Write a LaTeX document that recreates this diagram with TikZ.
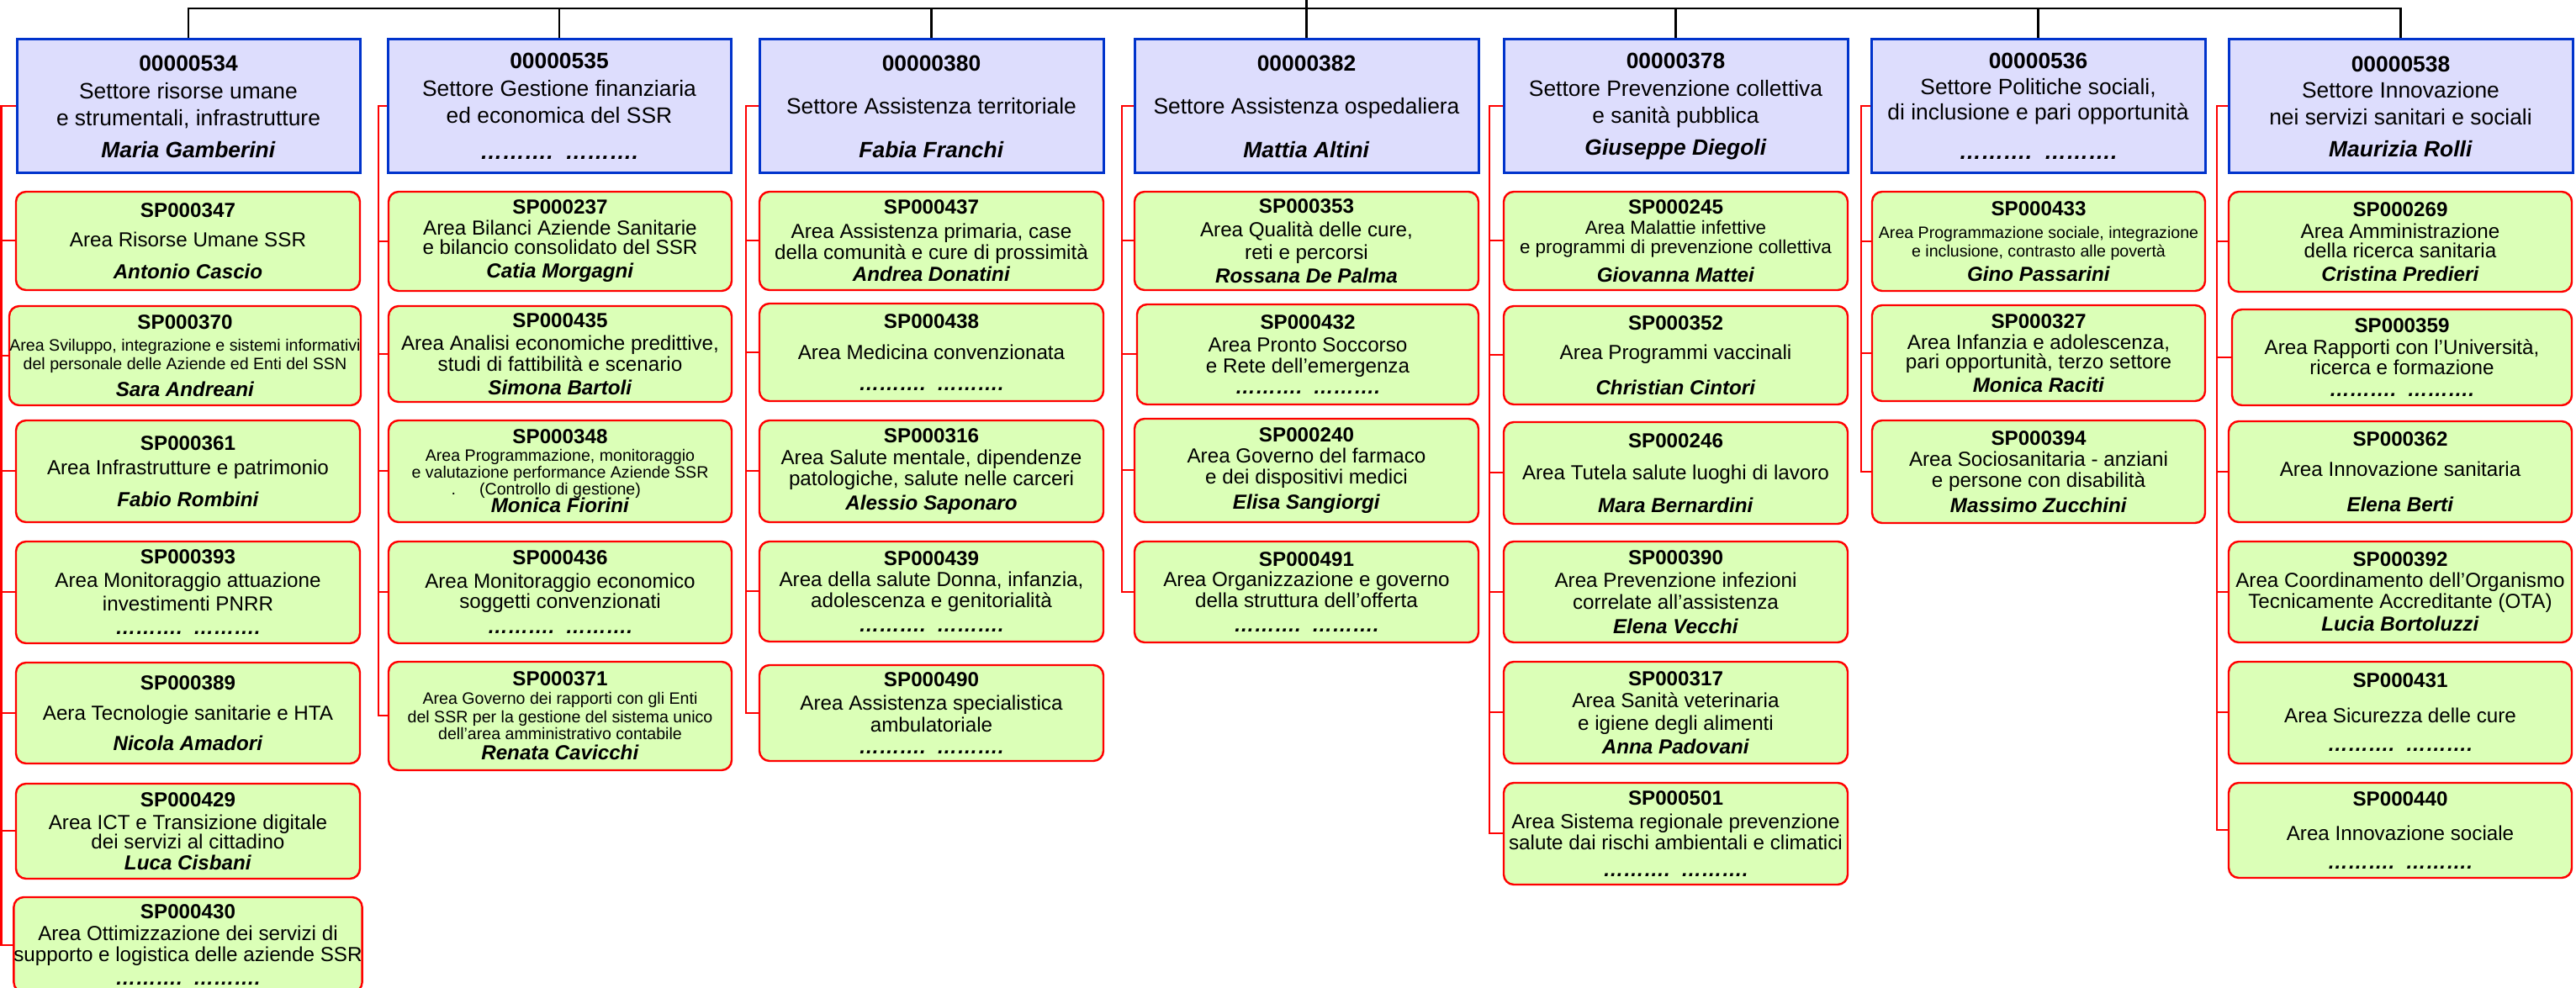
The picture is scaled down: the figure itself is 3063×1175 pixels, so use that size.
\documentclass[tikz,border=0pt]{standalone}
\usepackage{fontspec}
\setmainfont{Liberation Sans}
\definecolor{bordoblu}{RGB}{0,51,204}
\definecolor{fondoblu}{RGB}{221,221,253}
\definecolor{bordorosso}{RGB}{255,0,0}
\definecolor{fondoverde}{RGB}{219,255,183}
\newcommand{\settfont}{\fontsize{6.6}{8}\selectfont}
\newcommand{\areafont}{\fontsize{6.05}{6.2}\selectfont}
\newcommand{\piccolo}{\fontsize{4.9}{5.5}\selectfont}
\newcommand{\medio}{\fontsize{5.6}{6}\selectfont}
\newcommand{\codice}[1]{\textbf{#1}}
\newcommand{\resp}[1]{\textbf{\itshape #1}}
\newcommand{\puntini}{\textbf{\itshape ……….\ \ ……….}}
\begin{document}
\begin{tikzpicture}[x=0.25pt,y=-0.25pt]
	\tikzstyle{settore}=[draw=bordoblu, line width=0.75pt, fill=fondoblu, minimum height=39.75pt, inner sep=0pt, align=center, font=\settfont]
	\tikzstyle{area}=[draw=bordorosso, line width=0.6pt, fill=fondoverde, rounded corners=3pt, inner sep=0pt, align=center, font=\areafont]
	\tikzstyle{nero}=[black, line width=0.55pt]
	\tikzstyle{rosso}=[bordorosso, line width=0.5pt]
	\useasboundingbox (0,0) rectangle (3063,1175);
	\coordinate (radice) at (1553.5,0);
	\coordinate (bus) at (1553.5,10);
	\node[settore, minimum width=102pt] (s534) at (224,126.5) {\codice{00000534}\\[0.25pt] Settore risorse umane\\ e strumentali, infrastrutture\\[1.5pt] \resp{Maria Gamberini}};
	\node[settore, minimum width=102pt] (s535) at (665,126.5) {\codice{00000535}\\[0.25pt] Settore Gestione finanziaria\\ ed economica del SSR\\[2.75pt] \puntini};
	\node[settore, minimum width=102.25pt] (s380) at (1107.5,126.5) {\codice{00000380}\\[4.75pt] Settore Assistenza territoriale\\[5pt] \resp{Fabia Franchi}};
	\node[settore, minimum width=102.25pt] (s382) at (1553.5,126.5) {\codice{00000382}\\[4.75pt] Settore Assistenza ospedaliera\\[5pt] \resp{Mattia Altini}};
	\node[settore, minimum width=102.25pt] (s378) at (1992.5,126.5) {\codice{00000378}\\[0.25pt] Settore Prevenzione collettiva\\ e sanità pubblica\\[1.5pt] \resp{Giuseppe Diegoli}};
	\node[settore, minimum width=99.25pt] (s536) at (2423.5,126.5) {\codice{00000536}\\[-0.25pt] Settore Politiche sociali,\\[-0.5pt] di inclusione e pari opportunità\\[3.75pt] \puntini};
	\node[settore, minimum width=102.25pt] (s538) at (2854.5,126.5) {\codice{00000538}\\[-0.25pt] Settore Innovazione\\ nei servizi sanitari e sociali\\[1.5pt] \resp{Maurizia Rolli}};
	\node[area, minimum width=102.25pt, minimum height=29.25pt] (sp347) at (223.5,286.5) {\codice{SP000347}\\[2.6pt] Area Risorse Umane SSR\\[3.3pt] \resp{Antonio Cascio}};
	\node[area, minimum width=104.5pt, minimum height=29.5pt] (sp370) at (220,423) {\codice{SP000370}\\[0.3pt] {\piccolo Area Sviluppo, integrazione e sistemi informativi}\\[-0.7pt] {\piccolo del personale delle Aziende ed Enti del SSN}\\[1.8pt] \resp{Sara Andreani}};
	\node[area, minimum width=102.25pt, minimum height=30.25pt] (sp361) at (223.5,560.5) {\codice{SP000361}\\[0.9pt] Area Infrastrutture e patrimonio\\[3.3pt] \resp{Fabio Rombini}};
	\node[area, minimum width=102.25pt, minimum height=30.25pt] (sp393) at (223.5,704.5) {\codice{SP000393}\\[0.8pt] Area Monitoraggio attuazione\\[0.8pt] investimenti PNRR\\[0.8pt] \puntini};
	\node[area, minimum width=102.25pt, minimum height=30pt] (sp389) at (223.5,848) {\codice{SP000389}\\[2.8pt] Aera Tecnologie sanitarie e HTA\\[2.8pt] \resp{Nicola Amadori}};
	\node[area, minimum width=102.25pt, minimum height=28.25pt] (sp429) at (223.5,988.5) {\codice{SP000429}\\[0.6pt] Area ICT e Transizione digitale\\[-0.4pt] dei servizi al cittadino\\ \resp{Luca Cisbani}};
	\node[area, minimum width=102.25pt, minimum height=28.25pt] (sp430) at (223.5,1123.5) {\codice{SP000430}\\[0.3pt] Area Ottimizzazione dei servizi di\\ supporto e logistica delle aziende SSR\\[0.8pt] \puntini};
	\node[area, minimum width=102pt, minimum height=29.5pt] (sp237) at (666,287) {\codice{SP000237}\\ Area Bilanci Aziende Sanitarie\\[-0.4pt] e bilancio consolidato del SSR\\[0.8pt] \resp{Catia Morgagni}};
	\node[area, minimum width=102pt, minimum height=28.5pt] (sp435) at (666,421) {\codice{SP000435}\\[0.6pt] Area Analisi economiche predittive,\\[0.1pt] studi di fattibilità e scenario\\[0.6pt] \resp{Simona Bartoli}};
	\node[area, minimum width=102pt, minimum height=30.25pt] (sp348) at (666,560.5) {\codice{SP000348}\\[-0.95pt] {\piccolo Area Programmazione, monitoraggio}\\[-1.2pt] {\piccolo e valutazione performance Aziende SSR}\\[-1.2pt] {\piccolo\llap{.\hspace{7pt}}(Controllo di gestione)}\\[-0.95pt] \resp{Monica Fiorini}};
	\node[area, minimum width=102pt, minimum height=30.25pt] (sp436) at (666,704.5) {\codice{SP000436}\\[0.6pt] Area Monitoraggio economico\\ soggetti convenzionati\\[1.3pt] \puntini};
	\node[area, minimum width=102pt, minimum height=32.25pt] (sp371) at (666,851.5) {\codice{SP000371}\\[-0.7pt] {\piccolo Area Governo dei rapporti con gli Enti}\\[-0.9pt] {\piccolo del SSR per la gestione del sistema unico}\\[-1.2pt] {\piccolo dell’area amministrativo contabile}\\ \resp{Renata Cavicchi}};
	\node[area, minimum width=102.25pt, minimum height=29.25pt] (sp437) at (1107.5,286.5) {\codice{SP000437}\\[1pt] Area Assistenza primaria, case\\[0.1pt] della comunità e cure di prossimità\\[0.3pt] \resp{Andrea Donatini}};
	\node[area, minimum width=102.25pt, minimum height=29pt] (sp438) at (1107.5,419) {\codice{SP000438}\\[3pt] Area Medicina convenzionata\\[3pt] \puntini};
	\node[area, minimum width=102.25pt, minimum height=30.25pt] (sp316) at (1107.5,560.5) {\codice{SP000316}\\[0.3pt] Area Salute mentale, dipendenze\\[0.1pt] patologiche, salute nelle carceri\\[1.1pt] \resp{Alessio Saponaro}};
	\node[area, minimum width=102.25pt, minimum height=29.75pt] (sp439) at (1107.5,703.5) {\codice{SP000439}\\[0.2pt] Area della salute Donna, infanzia,\\ adolescenza e genitorialità\\[1.1pt] \puntini};
	\node[area, minimum width=102.25pt, minimum height=28.5pt] (sp490) at (1107.5,848) {\codice{SP000490}\\[1pt] Area Assistenza specialistica\\[0.1pt] ambulatoriale\\[0.5pt] \puntini};
	\node[area, minimum width=102.25pt, minimum height=29.25pt] (sp353) at (1553.5,286.5) {\codice{SP000353}\\[0.9pt] Area Qualità delle cure,\\[0.4pt] reti e percorsi\\[0.9pt] \resp{Rossana De Palma}};
	\node[area, minimum width=101.5pt, minimum height=29.75pt] (sp432) at (1555,421.5) {\codice{SP000432}\\[0.6pt] Area Pronto Soccorso\\ e Rete dell’emergenza\\ \puntini};
	\node[area, minimum width=102.25pt, minimum height=30.75pt] (sp240) at (1553.5,559.5) {\codice{SP000240}\\ Area Governo del farmaco\\ e dei dispositivi medici\\[1.3pt] \resp{Elisa Sangiorgi}};
	\node[area, minimum width=102.25pt, minimum height=30pt] (sp491) at (1553.5,704) {\codice{SP000491}\\ Area Organizzazione e governo\\ della struttura dell’offerta\\[1.1pt] \puntini};
	\node[area, minimum width=102.25pt, minimum height=29.25pt] (sp245) at (1992.5,286.5) {\codice{SP000245}\\ {\medio Area Malattie infettive}\\[-0.5pt] {\medio e programmi di prevenzione collettiva}\\[2.3pt] \resp{Giovanna Mattei}};
	\node[area, minimum width=102.25pt, minimum height=29.25pt] (sp352) at (1992.5,422.5) {\codice{SP000352}\\[2.6pt] Area Programmi vaccinali\\[4.3pt] \resp{Christian Cintori}};
	\node[area, minimum width=102.25pt, minimum height=30.25pt] (sp246) at (1992.5,562.5) {\codice{SP000246}\\[3.3pt] Area Tutela salute luoghi di lavoro\\[3.6pt] \resp{Mara Bernardini}};
	\node[area, minimum width=102.25pt, minimum height=30pt] (sp390) at (1992.5,704) {\codice{SP000390}\\[0.6pt] Area Prevenzione infezioni\\[0.4pt] correlate all’assistenza\\[0.9pt] \resp{Elena Vecchi}};
	\node[area, minimum width=102.25pt, minimum height=30.25pt] (sp317) at (1992.5,847.5) {\codice{SP000317}\\[0.3pt] Area Sanità veterinaria\\[0.6pt] e igiene degli alimenti\\[0.7pt] \resp{Anna Padovani}};
	\node[area, minimum width=102.25pt, minimum height=30.25pt] (sp501) at (1992.5,991.5) {\codice{SP000501}\\[0.7pt] Area Sistema regionale prevenzione\\[0.2pt] salute dai rischi ambientali e climatici\\[1.6pt] \puntini};
	\node[area, minimum width=99pt, minimum height=29.5pt] (sp433) at (2424,287) {\codice{SP000433}\\[0.5pt] {\piccolo Area Programmazione sociale, integrazione}\\[-0.7pt] {\piccolo e inclusione, contrasto alle povertà}\\[1pt] \resp{Gino Passarini}};
	\node[area, minimum width=99pt, minimum height=28.5pt] (sp327) at (2424,420) {\codice{SP000327}\\ Area Infanzia e adolescenza,\\[-0.4pt] pari opportunità, terzo settore\\[0.8pt] \resp{Monica Raciti}};
	\node[area, minimum width=99pt, minimum height=30.5pt] (sp394) at (2424,561) {\codice{SP000394}\\ Area Sociosanitaria - anziani\\ e persone con disabilità\\[1.3pt] \resp{Massimo Zucchini}};
	\node[area, minimum width=102pt, minimum height=29.75pt] (sp269) at (2854,287.5) {\codice{SP000269}\\[0.3pt] Area Amministrazione\\[-0.4pt] della ricerca sanitaria\\[0.6pt] \resp{Cristina Predieri}};
	\node[area, minimum width=101pt, minimum height=28.5pt] (sp359) at (2856,425) {\codice{SP000359}\\[0.3pt] Area Rapporti con l’Università,\\ ricerca e formazione\\[0.3pt] \puntini};
	\node[area, minimum width=102pt, minimum height=30pt] (sp362) at (2854,561) {\codice{SP000362}\\[2.8pt] Area Innovazione sanitaria\\[4.3pt] \resp{Elena Berti}};
	\node[area, minimum width=102pt, minimum height=30pt] (sp392) at (2854,704) {\codice{SP000392}\\ Area Coordinamento dell’Organismo\\[0.1pt] Tecnicamente Accreditante (OTA)\\[0.5pt] \resp{Lucia Bortoluzzi}};
	\node[area, minimum width=102pt, minimum height=30.25pt] (sp431) at (2854,847.5) {\codice{SP000431}\\[4.3pt] Area Sicurezza delle cure\\[2.3pt] \puntini};
	\node[area, minimum width=102pt, minimum height=28.25pt] (sp440) at (2854,987.5) {\codice{SP000440}\\[4.2pt] Area Innovazione sociale\\[2.2pt] \puntini};
	\draw[nero] (radice) -- (s382.north);
	\draw[nero] (s534.north) -- (s534.north |- bus) -- (s538.north |- bus) -- (s538.north);
	\draw[nero] (s535.north) -- (s535.north |- bus);
	\draw[nero] (s380.north) -- (s380.north |- bus);
	\draw[nero] (s378.north) -- (s378.north |- bus);
	\draw[nero] (s536.north) -- (s536.north |- bus);
	\draw[rosso] (s534.west) -- ++(-17,0) |- (sp347.west);
	\draw[rosso] (s534.west) -- ++(-17,0) |- (sp370.west);
	\draw[rosso] (s534.west) -- ++(-17,0) |- (sp361.west);
	\draw[rosso] (s534.west) -- ++(-17,0) |- (sp393.west);
	\draw[rosso] (s534.west) -- ++(-17,0) |- (sp389.west);
	\draw[rosso] (s534.west) -- ++(-17,0) |- (sp429.west);
	\draw[rosso] (s534.west) -- ++(-17,0) |- (sp430.west);
	\draw[rosso] (s535.west) -- ++(-10,0) |- (sp237.west);
	\draw[rosso] (s535.west) -- ++(-10,0) |- (sp435.west);
	\draw[rosso] (s535.west) -- ++(-10,0) |- (sp348.west);
	\draw[rosso] (s535.west) -- ++(-10,0) |- (sp436.west);
	\draw[rosso] (s535.west) -- ++(-10,0) |- (sp371.west);
	\draw[rosso] (s380.west) -- ++(-15,0) |- (sp437.west);
	\draw[rosso] (s380.west) -- ++(-15,0) |- (sp438.west);
	\draw[rosso] (s380.west) -- ++(-15,0) |- (sp316.west);
	\draw[rosso] (s380.west) -- ++(-15,0) |- (sp439.west);
	\draw[rosso] (s380.west) -- ++(-15,0) |- (sp490.west);
	\draw[rosso] (s382.west) -- ++(-14,0) |- (sp353.west);
	\draw[rosso] (s382.west) -- ++(-14,0) |- (sp432.west);
	\draw[rosso] (s382.west) -- ++(-14,0) |- (sp240.west);
	\draw[rosso] (s382.west) -- ++(-14,0) |- (sp491.west);
	\draw[rosso] (s378.west) -- ++(-16,0) |- (sp245.west);
	\draw[rosso] (s378.west) -- ++(-16,0) |- (sp352.west);
	\draw[rosso] (s378.west) -- ++(-16,0) |- (sp246.west);
	\draw[rosso] (s378.west) -- ++(-16,0) |- (sp390.west);
	\draw[rosso] (s378.west) -- ++(-16,0) |- (sp317.west);
	\draw[rosso] (s378.west) -- ++(-16,0) |- (sp501.west);
	\draw[rosso] (s536.west) -- ++(-11,0) |- (sp433.west);
	\draw[rosso] (s536.west) -- ++(-11,0) |- (sp327.west);
	\draw[rosso] (s536.west) -- ++(-11,0) |- (sp394.west);
	\draw[rosso] (s538.west) -- ++(-13,0) |- (sp269.west);
	\draw[rosso] (s538.west) -- ++(-13,0) |- (sp359.west);
	\draw[rosso] (s538.west) -- ++(-13,0) |- (sp362.west);
	\draw[rosso] (s538.west) -- ++(-13,0) |- (sp392.west);
	\draw[rosso] (s538.west) -- ++(-13,0) |- (sp431.west);
	\draw[rosso] (s538.west) -- ++(-13,0) |- (sp440.west);
\end{tikzpicture}
\end{document}
